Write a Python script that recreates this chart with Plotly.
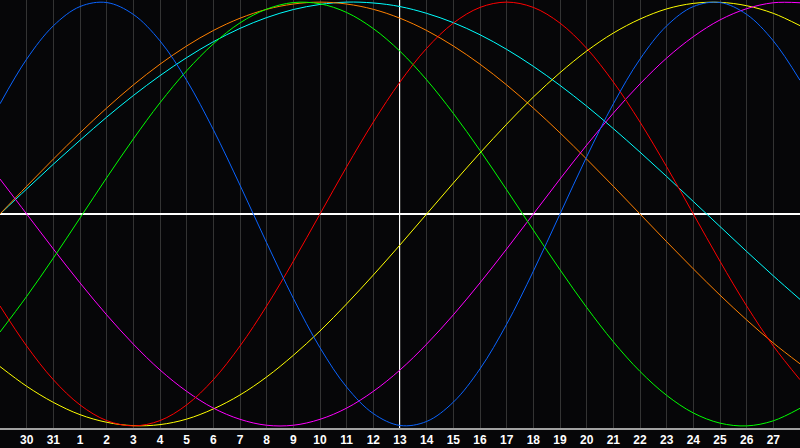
import plotly.graph_objects as go

# Day numbers along the x axis (index 0 = day 29 of previous month ... index 30 = day 28)
days = [29, 30, 31, 1, 2, 3, 4, 5, 6, 7, 8, 9, 10, 11, 12, 13, 14, 15, 16, 17,
        18, 19, 20, 21, 22, 23, 24, 25, 26, 27, 28]
today_label = 13

# Cycle values read at each day
blue = [0.52, 0.731, 0.888, 0.979, 0.998, 0.942, 0.817, 0.631, 0.398, 0.136,
        -0.136, -0.398, -0.631, -0.817, -0.942, -0.998, -0.979, -0.888, -0.731, -0.52,
        -0.27, 0.0, 0.27, 0.52, 0.731, 0.888, 0.979, 0.998, 0.942, 0.817, 0.631]
red = [-0.434, -0.623, -0.782, -0.901, -0.975, -1.0, -0.975, -0.901, -0.782, -0.623,
       -0.434, -0.223, 0.0, 0.223, 0.434, 0.623, 0.782, 0.901, 0.975, 1.0,
       0.975, 0.901, 0.782, 0.623, 0.434, 0.223, 0.0, -0.223, -0.434, -0.623, -0.782]
green = [-0.557, -0.389, -0.208, -0.019, 0.171, 0.354, 0.525, 0.676, 0.803, 0.902,
         0.967, 0.998, 0.992, 0.951, 0.875, 0.768, 0.633, 0.475, 0.300, 0.114,
         -0.076, -0.263, -0.441, -0.603, -0.743, -0.856, -0.939, -0.987, -1.0, -0.976, -0.917]
magenta = [0.165, 0.0, -0.165, -0.325, -0.476, -0.614, -0.736, -0.837, -0.916, -0.969,
           -0.997, -0.997, -0.969, -0.916, -0.837, -0.736, -0.614, -0.476, -0.325, -0.165,
           0.0, 0.165, 0.325, 0.476, 0.614, 0.736, 0.837, 0.916, 0.969, 0.997, 0.997]
yellow = [-0.720, -0.813, -0.889, -0.947, -0.983, -0.999, -0.994, -0.968, -0.920, -0.854,
          -0.769, -0.667, -0.552, -0.424, -0.288, -0.146, 0.0, 0.146, 0.288, 0.424,
          0.552, 0.667, 0.769, 0.854, 0.920, 0.968, 0.994, 0.999, 0.983, 0.947, 0.889]
orange = [0.0, 0.131, 0.259, 0.383, 0.5, 0.609, 0.707, 0.793, 0.866, 0.924,
          0.966, 0.991, 1.0, 0.991, 0.966, 0.924, 0.866, 0.793, 0.707, 0.609,
          0.5, 0.383, 0.259, 0.131, 0.0, -0.131, -0.259, -0.383, -0.5, -0.609, -0.707]
cyan = [0.0, 0.118, 0.235, 0.348, 0.457, 0.559, 0.653, 0.738, 0.813, 0.876,
        0.927, 0.965, 0.989, 1.0, 0.996, 0.979, 0.947, 0.903, 0.846, 0.777,
        0.697, 0.607, 0.509, 0.403, 0.292, 0.177, 0.059, -0.059, -0.177, -0.292, -0.403]

series = [
    ("cyan", cyan, "#00ffff"),
    ("orange", orange, "#ff8000"),
    ("yellow", yellow, "#ffff00"),
    ("magenta", magenta, "#ff00ff"),
    ("green", green, "#00ff00"),
    ("red", red, "#ff0000"),
    ("blue", blue, "#0a64ff"),
]

x = list(range(len(days)))
tick_idx = x[1:-1]
tick_text = [str(d) for d in days[1:-1]]
today_x = days.index(today_label)

fig = go.Figure()
for name, vals, col in series:
    fig.add_trace(go.Scatter(x=x, y=vals, mode="lines", name=name,
                             line=dict(color=col, width=1, shape="spline", smoothing=1),
                             hoverinfo="skip"))

fig.add_shape(type="line", xref="x", yref="paper", x0=today_x, x1=today_x, y0=0, y1=1,
              line=dict(color="#ffffff", width=2), layer="below")

fig.update_layout(
    width=800, height=448,
    margin=dict(l=0, r=0, t=0, b=20, pad=0, autoexpand=False),
    paper_bgcolor="#060608",
    plot_bgcolor="#060608",
    showlegend=False,
    xaxis=dict(range=[0, 30], tickvals=tick_idx, ticktext=tick_text,
               showgrid=True, gridcolor="#333333", gridwidth=1,
               zeroline=False, showline=True, linecolor="#a0a0a0", linewidth=2,
               mirror=True, ticks="", fixedrange=True,
               tickfont=dict(color="#ffffff", size=12, family="Liberation Sans", weight="bold")),
    yaxis=dict(range=[-1.01, 1.01], showticklabels=False, showgrid=False,
               zeroline=True, zerolinecolor="#ffffff", zerolinewidth=2,
               showline=True, linecolor="#a0a0a0", linewidth=1, mirror=True,
               ticks="", fixedrange=True),
)

fig.write_html("out.html", config={"displayModeBar": False},
               post_script="document.body.style.margin='0';document.body.style.overflow='hidden';")
